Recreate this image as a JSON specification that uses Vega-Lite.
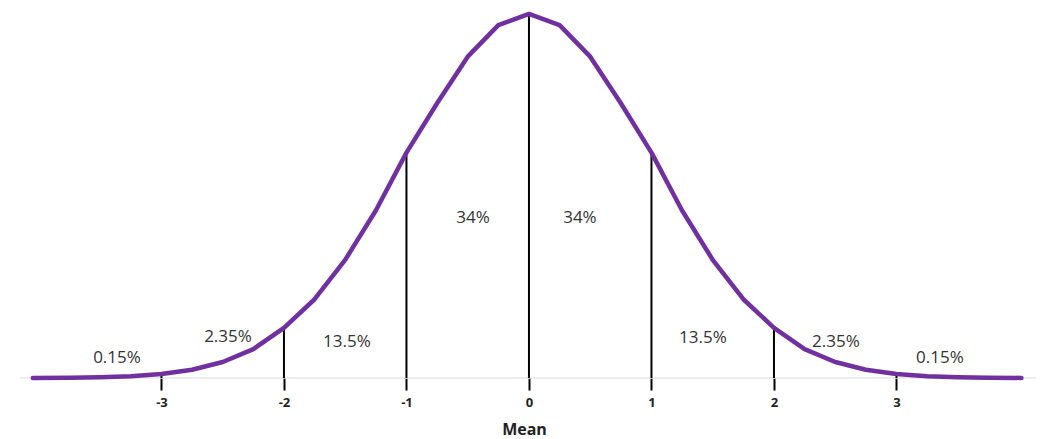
{
  "$schema": "https://vega.github.io/schema/vega-lite/v6.json",
  "width": 1048,
  "height": 378,
  "autosize": {"type": "none"},
  "padding": {"left": 0, "top": 0, "right": 0, "bottom": 61},
  "background": "white",
  "config": {"view": {"stroke": null}, "font": "Open Sans"},
  "datasets": {
    "curve": [
      {"x": -4.05, "y": 0.0001}, {"x": -3.75, "y": 0.0004}, {"x": -3.5, "y": 0.0009}, {"x": -3.25, "y": 0.002},
      {"x": -3, "y": 0.0044}, {"x": -2.75, "y": 0.0091}, {"x": -2.5, "y": 0.0175}, {"x": -2.25, "y": 0.0317},
      {"x": -2, "y": 0.055}, {"x": -1.75, "y": 0.0863}, {"x": -1.5, "y": 0.1295}, {"x": -1.25, "y": 0.1836},
      {"x": -1, "y": 0.247}, {"x": -0.75, "y": 0.3011}, {"x": -0.5, "y": 0.3521}, {"x": -0.25, "y": 0.3867},
      {"x": 0, "y": 0.3989}, {"x": 0.25, "y": 0.3867}, {"x": 0.5, "y": 0.3521}, {"x": 0.75, "y": 0.3011},
      {"x": 1, "y": 0.247}, {"x": 1.25, "y": 0.1836}, {"x": 1.5, "y": 0.1295}, {"x": 1.75, "y": 0.0863},
      {"x": 2, "y": 0.055}, {"x": 2.25, "y": 0.0317}, {"x": 2.5, "y": 0.0175}, {"x": 2.75, "y": 0.0091},
      {"x": 3, "y": 0.0044}, {"x": 3.25, "y": 0.002}, {"x": 3.5, "y": 0.0009}, {"x": 3.75, "y": 0.0004},
      {"x": 4.02, "y": 0.0001}
    ],
    "dividers": [
      {"x": -3, "top": 0.0044}, {"x": -2, "top": 0.055}, {"x": -1, "top": 0.247}, {"x": 0, "top": 0.3989},
      {"x": 1, "top": 0.247}, {"x": 2, "top": 0.055}, {"x": 3, "top": 0.0044}
    ],
    "labels": [
      {"x": -0.457, "y": 0.175, "text": "34%"},
      {"x": 0.416, "y": 0.175, "text": "34%"},
      {"x": -1.486, "y": 0.039, "text": "13.5%"},
      {"x": 1.42, "y": 0.044, "text": "13.5%"},
      {"x": -2.457, "y": 0.045, "text": "2.35%"},
      {"x": 2.506, "y": 0.039, "text": "2.35%"},
      {"x": -3.363, "y": 0.022, "text": "0.15%"},
      {"x": 3.355, "y": 0.022, "text": "0.15%"}
    ],
    "base": [{"x1": -4.155, "x2": 4.139}]
  },
  "layer": [
    {
      "data": {"name": "base"},
      "mark": {"type": "rule", "color": "#d9d9d9", "strokeWidth": 1},
      "encoding": {
        "x": {"field": "x1", "type": "quantitative", "scale": {"domain": [-4.318, 4.237], "nice": false, "zero": false}, "axis": {
          "values": [-3, -2, -1, 0, 1, 2, 3], "domain": false, "grid": false, "ticks": true, "tickColor": "black", "tickWidth": 2, "tickSize": 12,
          "labelPadding": 6, "labelFont": "Open Sans", "labelFontWeight": "bold", "labelFontSize": 13, "labelColor": "#222",
          "labelExpr": "'' + datum.value", "title": "Mean", "titleFont": "Open Sans", "titleFontSize": 16, "titleFontWeight": "bold", "titleColor": "#222", "titlePadding": 12
        }},
        "x2": {"field": "x2"},
        "y": {"datum": 0, "type": "quantitative", "scale": {"domain": [0, 0.4142], "nice": false}, "axis": null}
      }
    },
    {
      "data": {"name": "dividers"},
      "mark": {"type": "rule", "color": "black", "strokeWidth": 2},
      "encoding": {
        "x": {"field": "x", "type": "quantitative"},
        "y": {"field": "top", "type": "quantitative"},
        "y2": {"datum": 0}
      }
    },
    {
      "data": {"name": "curve"},
      "mark": {"type": "line", "color": "#7030A0", "strokeWidth": 4.5, "strokeJoin": "round", "strokeCap": "round"},
      "encoding": {
        "x": {"field": "x", "type": "quantitative"},
        "y": {"field": "y", "type": "quantitative"}
      }
    },
    {
      "data": {"name": "labels"},
      "mark": {"type": "text", "font": "Open Sans", "fontSize": 17, "color": "#333"},
      "encoding": {
        "x": {"field": "x", "type": "quantitative"},
        "y": {"field": "y", "type": "quantitative"},
        "text": {"field": "text"}
      }
    }
  ]
}
